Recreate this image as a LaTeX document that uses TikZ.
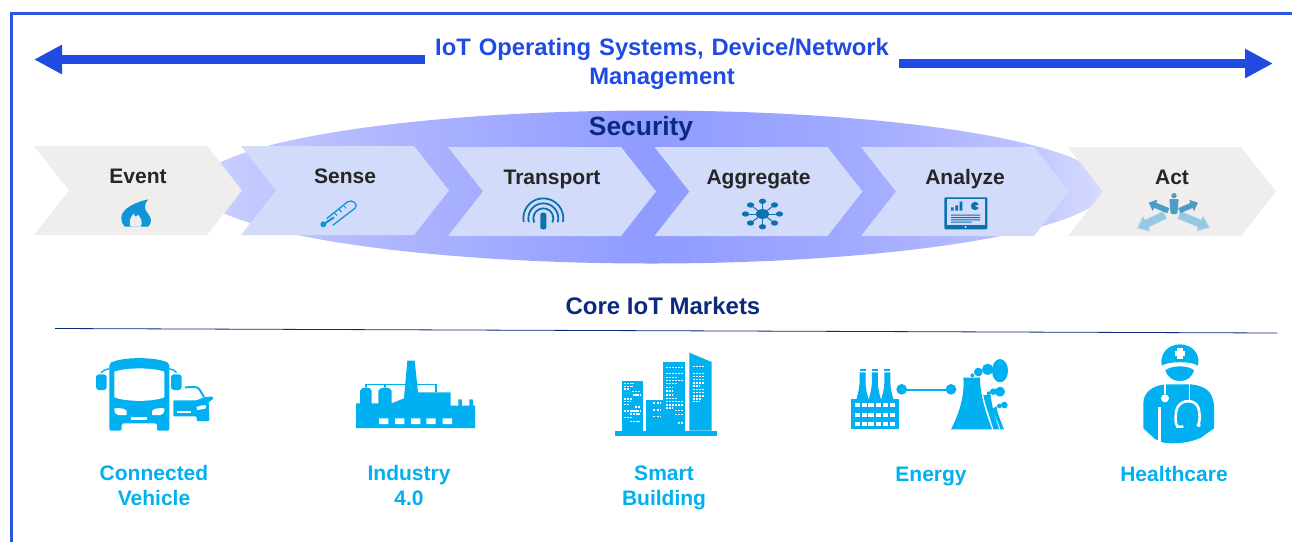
\documentclass[tikz,border=0pt]{standalone}
\usepackage{fontspec}
\setmainfont{Liberation Sans}
\usetikzlibrary{arrows.meta}
\definecolor{framec}{HTML}{2B55E3}
\definecolor{titlec}{HTML}{1F4BE2}
\definecolor{navy}{HTML}{0B2A7E}
\definecolor{mkt}{HTML}{00B0F0}
\definecolor{inkc}{HTML}{262626}
\definecolor{chevblue}{HTML}{D2DBF9}
\definecolor{chevgrey}{HTML}{EFEEEC}
\definecolor{iconb}{HTML}{0B72AD}
\definecolor{iconc}{HTML}{1095D8}
\definecolor{actdark}{HTML}{4C9CC8}
\definecolor{actlight}{HTML}{96C8E2}
\definecolor{acthalo}{HTML}{D5E9F3}
\definecolor{shA}{HTML}{CDD2FF}
\definecolor{shB}{HTML}{C3C9FF}
\definecolor{shC}{HTML}{B0B7FF}
\definecolor{shD}{HTML}{8F9BFF}
\definecolor{shE}{HTML}{A3ACFF}
\definecolor{shF}{HTML}{BBC1FF}
\definecolor{shG}{HTML}{D8DCFF}
\pgfdeclarehorizontalshading{secshade}{100bp}{
  color(0bp)=(shA);
  color(25bp)=(shA);
  color(28bp)=(shB);
  color(35bp)=(shC);
  color(50bp)=(shD);
  color(62bp)=(shE);
  color(70bp)=(shF);
  color(75bp)=(shG);
  color(100bp)=(shG)}
\tikzset{
  lbl/.style={font=\bfseries\fontsize{21}{25}\selectfont,text=inkc,inner sep=0pt,anchor=base},
  mktlbl/.style={font=\bfseries\fontsize{21}{25}\selectfont,text=mkt,inner sep=0pt,align=center},
  bigarrow/.style={line width=9.5pt,draw=titlec,-{Triangle[length=28pt,width=27.5pt]}},
  ic/.style={fill=mkt},
  wht/.style={fill=white}
}
% #1 name, #2 left x, #3 top y, #4 fill, #5 label, #6 label x, #7 label baseline y
\newcommand{\chevronbox}[7]{
  \fill[#4] (#2,#3) -- ++(173,0) -- ++(35,44.5) -- ++(-35,44.5) -- ++(-173,0) -- ++(35,-44.5) -- cycle;
  \node[lbl] (#1) at (#6,#7) {#5};
}
\begin{document}
\begin{tikzpicture}[x=1pt,y=-1pt]
\useasboundingbox (0,0) rectangle (1292,542);
% frame
\draw[framec,line width=3pt] (11,542) -- (11,13.5) -- (1292,13.5);

% title and arrows
\node[font=\bfseries\fontsize{23.8}{29}\selectfont,text=titlec,align=center,text width=474pt,inner sep=0pt] (title) at (662,63.5) {IoT Operating Systems, Device/Network\\Management};
\coordinate (lefttip) at (34,59.5);
\coordinate (righttip) at (1273,63.5);
\draw[bigarrow] (title.west |- lefttip) -- (lefttip);
\draw[bigarrow] (title.east |- righttip) -- (righttip);

% security ellipse
\shade[shading=secshade] (651.5,187) ellipse [x radius=455pt,y radius=76.5pt];
\node[font=\bfseries\fontsize{26.4}{30}\selectfont,text=navy,inner sep=0pt,anchor=base] (security) at (641,135) {Security};

% chevrons
\chevronbox{event}{34}{146}{chevgrey}{Event}{138}{183}
\chevronbox{sense}{241}{146}{chevblue}{Sense}{345}{183}
\chevronbox{transport}{448}{147}{chevblue}{Transport}{552}{184}
\chevronbox{aggregate}{654.5}{147}{chevblue}{Aggregate}{758.5}{184}
\chevronbox{analyze}{861}{147}{chevblue}{Analyze}{965}{184}
\chevronbox{act}{1068}{147}{chevgrey}{Act}{1172}{184}

% flame
\begin{scope}[shift={(110,190)},scale=1/3]
\fill[iconc] (115,28) .. controls (80,35) and (35,55) .. (34,82) .. controls (34,95) and (38,104) .. (44,110) -- (115,110) .. controls (125,100) and (126,85) .. (115,72) .. controls (103,60) and (100,45) .. (115,28) -- cycle;
\fill[chevgrey] (62,110) .. controls (55,95) and (62,80) .. (72,70) .. controls (72,80) and (78,84) .. (84,74) .. controls (92,84) and (100,95) .. (92,110) -- cycle;
\end{scope}

% thermometer
\begin{scope}[shift={(110,190)},scale=1/3]
\draw[iconc,line width=1.3pt,line join=round] (650,86) -- (712,36) .. controls (726,26) and (746,42) .. (736,54) -- (668,106);
\fill[iconc] (640,103) circle (9);
\draw[iconc,line width=2pt] (645,100) -- (672,82);
\draw[iconc,line width=1pt] (672,68) -- (681,77) (686,57) -- (695,66) (700,46) -- (709,55);
\end{scope}

% antenna
\begin{scope}[shift={(510,190)},scale=1/3]
\draw[iconb,line width=1.8pt] (100,85) ++(170:60) arc [start angle=170,end angle=370,radius=60];
\draw[iconb,line width=1.8pt] (100,85) ++(165:45) arc [start angle=165,end angle=375,radius=45];
\draw[iconb,line width=1.8pt] (100,85) ++(155:30) arc [start angle=155,end angle=385,radius=30];
\fill[iconb,rounded corners=2pt] (91,68) rectangle (109,118);
\end{scope}

% aggregate icon
\begin{scope}[shift={(762.5,214)},yscale=0.75]
\fill[iconb] (0,0) circle (6.5);
\foreach \a in {0,45,...,315}{
  \draw[iconb,line width=1pt] (0,0) -- (\a:15);
  \fill[iconb] (\a:17) circle (3.6);
}
\end{scope}

% analyze icon
\begin{scope}[shift={(930,190)},scale=1/3]
\fill[iconb,rounded corners=1pt] (43,22) rectangle (172,118);
\fill[chevblue] (50,28) rectangle (165,105);
\fill[iconb] (63,52) rectangle (71,62) (76,46) rectangle (84,62) (89,35) rectangle (97,62);
\fill[iconb] (135,48) circle (12.5);
\fill[chevblue] (135,48) -- (150,42) -- (150,54) -- cycle;
\fill[iconb] (63,74) rectangle (150,77) (63,81) rectangle (150,84) (63,88) rectangle (150,91) (63,95) rectangle (125,98);
\fill[white] (107,111) circle (3);
\end{scope}

% act icon
\begin{scope}[shift={(930,190)},scale=1/3]
\draw[acthalo,line width=9.5pt,-{Triangle[length=11pt,width=18pt]}] (706,74) -- (618,117);
\draw[acthalo,line width=9.5pt,-{Triangle[length=11pt,width=18pt]}] (746,74) -- (842,114);
\draw[actlight,line width=7.5pt,-{Triangle[length=10pt,width=15pt]}] (704,75) -- (623,114);
\draw[actlight,line width=7.5pt,-{Triangle[length=10pt,width=15pt]}] (748,75) -- (837,112);
\draw[actdark,line width=5.5pt,-{Triangle[length=7pt,width=12pt]}] (715,62) -- (656,38);
\draw[actdark,line width=5.5pt,-{Triangle[length=7pt,width=12pt]}] (748,62) -- (804,38);
\fill[actdark] (732,17) ellipse [x radius=8,y radius=8];
\fill[actdark,rounded corners=1pt] (718,27) -- (746,27) -- (742,72) -- (722,72) -- cycle;
\end{scope}

% core markets
\node[font=\bfseries\fontsize{24}{29}\selectfont,text=navy,inner sep=0pt] (core) at (663,306) {Core IoT Markets};
\coordinate (ruleA) at (55,328.5);
\coordinate (ruleB) at (1277,333);
\draw[navy,line width=0.8pt] (ruleA) -- (ruleB);

% vehicle icon
\begin{scope}[shift={(80,340)},scale=1/3]
\fill[ic,rounded corners=2pt] (88,70) .. controls (130,50) and (226,50) .. (268,70) -- (268,272) -- (231,272) -- (231,250) -- (125,250) -- (125,272) -- (88,272) -- cycle;
\fill[wht] (103,95) .. controls (140,82) and (216,82) .. (253,95) -- (253,172) .. controls (216,186) and (140,186) .. (103,172) -- cycle;
\fill[wht] (103,205) .. controls (118,203) and (135,205) .. (140,213) -- (140,225) -- (115,225) .. controls (108,224) and (103,218) .. (103,212) -- cycle;
\fill[wht] (253,205) .. controls (238,203) and (221,205) .. (216,213) -- (216,225) -- (241,225) .. controls (248,224) and (253,218) .. (253,212) -- cycle;
\fill[wht] (153,231) rectangle (201,239);
\fill[ic,rounded corners=3pt] (48,103) rectangle (80,150);
\fill[ic,rounded corners=3pt] (273,103) rectangle (305,150);
\draw[mkt,line width=1.4pt] (63,98) .. controls (68,92) and (78,88) .. (88,86);
\draw[mkt,line width=1.4pt] (290,98) .. controls (285,92) and (278,88) .. (268,86);
\draw[mkt,line width=2pt] (315,142) -- (345,141) .. controls (358,141) and (362,155) .. (372,171);
\fill[ic,rounded corners=1pt] (280,181) -- (350,181) -- (372,172) -- (398,169) -- (400,177) -- (386,186) -- (388,243) -- (350,243) -- (350,229) -- (280,229) -- cycle;
\fill[wht] (290,212) rectangle (333,218);
\fill[wht] (349,202) .. controls (360,196) and (372,195) .. (379,196) -- (376,206) -- (352,210) -- cycle;
\end{scope}

% factory icon
\begin{scope}[shift={(80,340)},scale=1/3]
\fill[ic] (828,264) -- (828,190) -- (840,190) -- (840,152) .. controls (842,146) and (850,142) .. (858,142) .. controls (866,142) and (874,146) .. (875,152) -- (875,190) -- (895,190) -- (895,152) .. controls (897,146) and (906,142) .. (915,142) .. controls (924,142) and (933,146) .. (935,152) -- (935,190) -- (972,175) -- (982,62) -- (1004,62) -- (1014,157) -- (1112,157) -- (1112,197) -- (1135,197) -- (1135,178) -- (1145,178) -- (1146,197) -- (1168,197) -- (1168,178) -- (1178,178) -- (1180,197) -- (1185,197) -- (1185,264) -- cycle;
\fill[wht] (897,235) rectangle (925,252) (945,235) rectangle (973,252) (993,235) rectangle (1021,252) (1039,235) rectangle (1067,252) (1088,235) rectangle (1116,252);
\draw[mkt,line width=1.6pt] (858,142) -- (858,133) -- (1068,133) -- (1068,157);
\draw[mkt,line width=1.4pt] (915,142) -- (915,133);
\end{scope}

% building icon
\begin{scope}[shift={(600,340)},scale=1/3]
\fill[ic] (45,272) rectangle (351,287);
\fill[ic] (65,123) rectangle (130,272);
\fill[ic] (139,180) rectangle (190,272);
\fill[ic] (190,67) rectangle (255,272);
\fill[ic] (268,38) -- (335,66) -- (335,272) -- (268,272) -- cycle;
\foreach \y/\a/\b in {131/72/102,139/72/98,147/72/88,155/95/120,165/100/120,177/72/95,185/72/92,193/72/88,201/105/120,213/72/120,222/90/120,233/72/95,244/90/120}{
  \draw[white,line width=1.2pt,dash pattern=on 2.3pt off 0.8pt] (\a,\y) -- (\b,\y);
}
\foreach \y in {189,210,230}{\draw[white,line width=1.2pt,dash pattern=on 2pt off 1.5pt] (160,\y) -- (182,\y);}
\foreach \y/\a/\b in {82/197/248,100/197/248,112/197/230,122/197/248,131/197/230,142/197/218,153/197/218,165/197/218,176/197/230,185/197/248,195/197/248,204/197/218,212/225/248,224/225/248,249/233/248}{
  \draw[white,line width=1.2pt,dash pattern=on 2.3pt off 0.8pt] (\a,\y) -- (\b,\y);
}
\foreach \y/\a/\b in {80/278/312,100/278/312,109/278/312,119/278/312,129/278/312,138/278/300,148/278/312,158/278/312,168/278/312,177/278/305,185/278/300}{
  \draw[white,line width=1.2pt,dash pattern=on 2.3pt off 0.8pt] (\a,\y) -- (\b,\y);
}
\end{scope}

% energy icon
\begin{scope}[shift={(600,340)},scale=1/3]
\fill[ic] (753,177) rectangle (897,268);
\foreach \x in {787.5,824.5,862}{
  \fill[ic] (\x-9,97) -- (\x+9,97) -- (\x+9,130) .. controls (\x+10,150) and (\x+15,165) .. (\x+18,177) -- (\x-18,177) .. controls (\x-15,165) and (\x-10,150) .. (\x-9,130) -- cycle;
  \fill[ic] (\x-9,88) rectangle (\x+9,93);
}
\foreach \y in {190,218,246}{
  \foreach \x in {765,785,805,828,848,869}{
    \fill[wht] (\x,\y) rectangle ++(16,12);
  }
}
\fill[ic] (905,148) circle (16);
\fill[ic] (1053,148) circle (16);
\fill[ic] (905,145.5) rectangle (1053,151.5);
\fill[ic] (1090,113) -- (1140,113) .. controls (1140,150) and (1150,200) .. (1176,268) -- (1053,268) .. controls (1075,225) and (1095,170) .. (1090,113) -- cycle;
\fill[ic] (1150,165) -- (1172,165) .. controls (1175,200) and (1188,240) .. (1198,268) -- (1180,268) .. controls (1172,235) and (1155,195) .. (1150,165) -- cycle;
\fill[ic] (1176,204) -- (1190,204) .. controls (1194,225) and (1205,250) .. (1212,268) -- (1201,268) .. controls (1195,245) and (1182,225) .. (1176,204) -- cycle;
\fill[ic] (1200,92) ellipse [x radius=24,y radius=35];
\fill[ic] (1163,88) circle (17);
\fill[ic] (1135,96) circle (13);
\fill[ic] (1117,106) circle (6);
\fill[ic] (1200,155) circle (15);
\fill[ic] (1180,155) circle (10);
\fill[ic] (1166,160) circle (6);
\fill[ic] (1213,195) circle (10);
\fill[ic] (1198,198) circle (7);
\fill[ic] (1187,204) circle (5);
\end{scope}

% healthcare icon
\begin{scope}[shift={(1120,335)},scale=1/3]
\fill[ic] (125,92) .. controls (118,55) and (145,28) .. (180,28) .. controls (215,28) and (242,55) .. (234,92) .. controls (215,78) and (145,78) .. (125,92) -- cycle;
\fill[wht] (171,40) rectangle (189,72);
\fill[wht] (164,49) rectangle (196,62);
\fill[ic] (136,106) .. controls (155,90) and (205,90) .. (222,106) .. controls (215,128) and (200,138) .. (180,138) .. controls (160,138) and (143,128) .. (136,106) -- cycle;
\fill[ic] (135,148) -- (212,148) .. controls (250,152) and (280,165) .. (282,215) -- (282,280) -- (243,308) .. controls (205,325) and (160,328) .. (127,322) -- (105,312) -- (70,280) -- (70,205) .. controls (70,170) and (100,152) .. (135,148) -- cycle;
\draw[white,line width=1.6pt] (135,148) -- (135,178);
\fill[wht] (135,190) circle (12);
\draw[white,line width=3.2pt] (118,215) -- (118,325);
\draw[white,line width=1.6pt] (208,148) -- (208,198);
\draw[white,line width=2.6pt] (190,275) -- (172,275) .. controls (165,265) and (165,235) .. (172,218) .. controls (185,192) and (225,192) .. (235,218) .. controls (240,235) and (240,255) .. (236,268);
\fill[wht] (236,270) circle (6);
\end{scope}

% market labels
\node[mktlbl] (vehicle) at (154,485.5) {Connected\\[-0.1pt]Vehicle};
\node[mktlbl] (industry) at (409,485.5) {Industry\\[-0.1pt]4.0};
\node[mktlbl] (building) at (664,487.5) {Smart\\[-0.1pt]Building};
\node[mktlbl,anchor=base] (energy) at (931,481) {Energy};
\node[mktlbl,anchor=base] (health) at (1174,481) {Healthcare};
\end{tikzpicture}
\end{document}
